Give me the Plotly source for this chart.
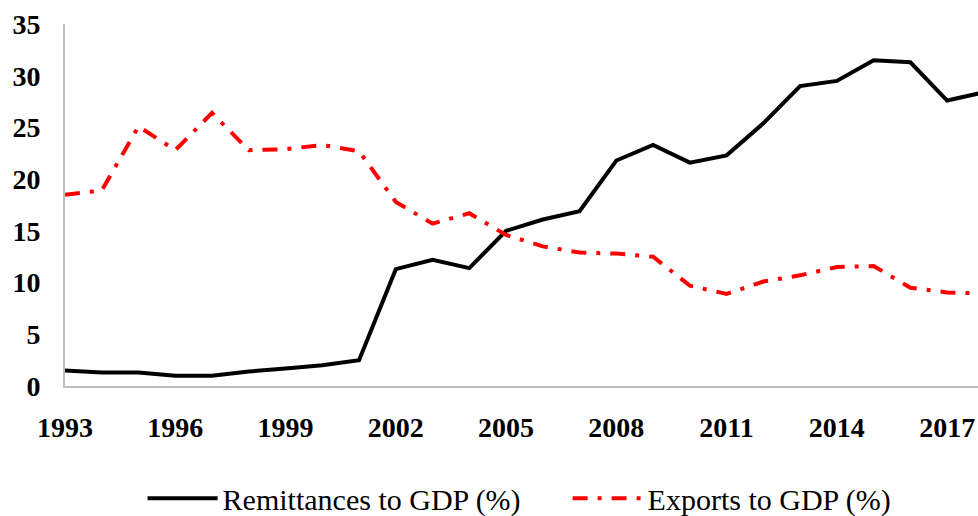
import plotly.graph_objects as go

years = list(range(1993, 2019))
remittances = [1.5, 1.3, 1.3, 1.0, 1.0, 1.4, 1.7, 2.0, 2.5, 11.3, 12.2, 11.4,
               15.0, 16.1, 16.9, 21.8, 23.3, 21.6, 22.3, 25.4, 29.0, 29.5,
               31.5, 31.3, 27.6, 28.4]
exports = [18.5, 18.9, 25.1, 22.8, 26.4, 22.8, 22.9, 23.3, 22.7, 17.8, 15.7, 16.7,
           14.6, 13.5, 12.9, 12.8, 12.5, 9.7, 8.9, 10.1, 10.7, 11.5,
           11.6, 9.5, 9.05, 8.95]
x_ticks = list(range(1993, 2018, 3))
y_ticks = list(range(0, 36, 5))

fig = go.Figure()
fig.add_trace(go.Scatter(x=years, y=remittances, mode="lines",
                         name="Remittances to GDP (%)",
                         line=dict(color="black", width=4)))
fig.add_trace(go.Scatter(x=years, y=exports, mode="lines",
                         name="Exports to GDP (%)",
                         line=dict(color="#ff0000", width=4, dash="15px,10px,4px,10px")))

fig.update_layout(
    width=978, height=516,
    margin=dict(l=65, r=0, t=24, b=130, autoexpand=False),
    paper_bgcolor="white", plot_bgcolor="white",
    font=dict(family="Liberation Serif", color="black"),
    showlegend=True,
    legend=dict(orientation="h", x=0.085, xanchor="left", y=-0.31, yanchor="middle",
                font=dict(family="Liberation Serif", size=30, color="black"),
                itemwidth=70, entrywidth=340, traceorder="normal"),
    xaxis=dict(range=[1993, 2017.84], tickvals=x_ticks, ticktext=[str(v) for v in x_ticks],
               showgrid=False, zeroline=False, showline=True, linecolor="#bfbfbf", linewidth=2,
               ticks="", ticklabelstandoff=15, automargin=False,
               tickfont=dict(family="Liberation Serif", size=28, color="black", weight="bold")),
    yaxis=dict(range=[0, 35], tickvals=y_ticks, ticktext=[str(v) for v in y_ticks],
               showgrid=False, zeroline=False, showline=True, linecolor="#bfbfbf", linewidth=2,
               ticks="", ticklabelstandoff=17, automargin=False,
               tickfont=dict(family="Liberation Serif", size=28, color="black", weight="bold")),
)

fig.write_html("out.html", config={"displayModeBar": False},
               post_script="document.body.style.margin='0';document.body.style.overflow='hidden';")
